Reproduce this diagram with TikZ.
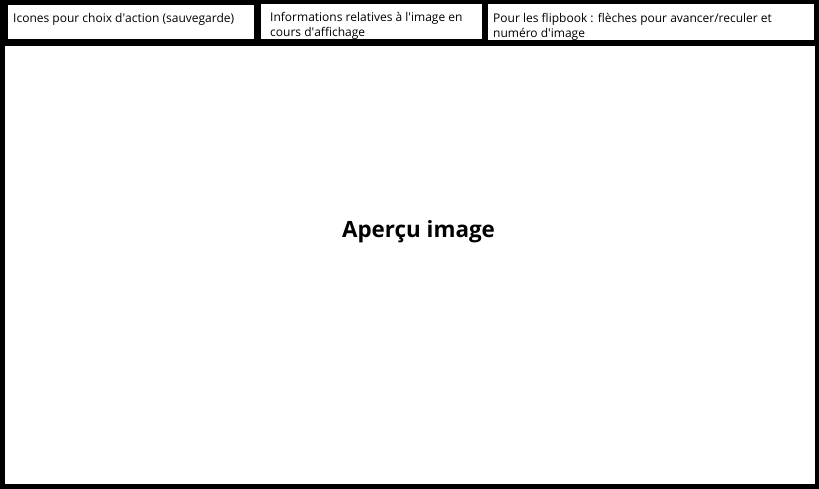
\documentclass[tikz,border=0pt]{standalone}
\usepackage{fontspec}
\setmainfont{Open Sans}[Ligatures=NoCommon]
\usetikzlibrary{positioning}
\tikzset{
	panelstyle/.style={rectangle,fill=white,anchor=north west,inner sep=0pt},
	notestyle/.style={font=\fontsize{12}{15}\selectfont,align=left,inner sep=0pt,anchor=north west},
	titlestyle/.style={font=\fontsize{22.4}{26}\selectfont\bfseries,inner sep=0pt}
}

\begin{document}
\begin{tikzpicture}[x=1pt,y=-1pt]
		\fill[black] (0,0) rectangle (819,489);
		\useasboundingbox (0,0) rectangle (819,489);
		\node[panelstyle,minimum width=246pt,minimum height=34pt] (icons) at (8,5) {};
		\node[panelstyle,minimum width=221pt,minimum height=35pt] (infos) at (261,4) {};
		\node[panelstyle,minimum width=326pt,minimum height=36pt] (flip) at (488,4) {};
		\node[panelstyle,minimum width=810pt,minimum height=438pt] (preview) at (5,46) {};
		\node[notestyle,below right=8pt and 5pt of icons.north west] (iconstext) {Icones pour choix d\textquotesingle action (sauvegarde)};
		\node[notestyle,below right=8pt and 9pt of infos.north west] (infostext) {Informations relatives à l\textquotesingle image en\\cours d\textquotesingle affichage};
		\node[notestyle,below right=9pt and 5pt of flip.north west] (fliptext) {Pour les flipbook : flèches pour avancer/reculer et\\numéro d\textquotesingle image};
		\node[titlestyle,anchor=base] (title) at (418.5,237) {Aperçu image};
		\end{tikzpicture}
\end{document}
